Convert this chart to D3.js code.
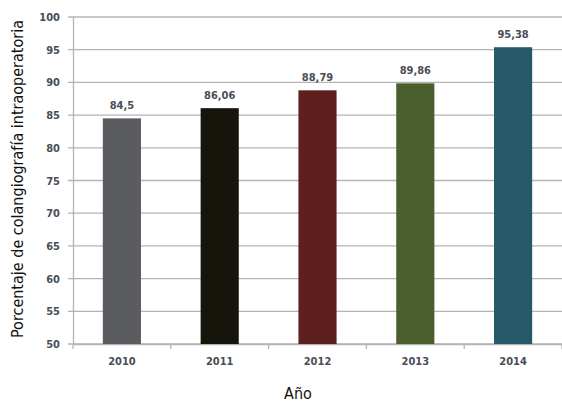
<!DOCTYPE html>
<html>
<head>
  <meta charset="UTF-8">
  <style>
    body { margin: 0; background: #fff; }
    svg { display: block; }
    .tick text, .val { font-family: "Liberation Sans Narrow", "DejaVu Sans Condensed", Arial, sans-serif; font-weight: bold; fill: #4a4d55; font-size: 11px; }
    .title { font-family: "Liberation Sans Narrow", "DejaVu Sans Condensed", Arial, sans-serif; fill: #111; font-size: 16px; }
  </style>
</head>
<body>
<svg></svg>
<script src="https://d3js.org/d3.v7.min.js"></script>
<script>
// data
let years = ["2010", "2011", "2012", "2013", "2014"];
let values = [84.5, 86.06, 88.79, 89.86, 95.38];
let labels = ["84,5", "86,06", "88,79", "89,86", "95,38"];
let colors = ["#5b5c60", "#15150b", "#5e1f1f", "#4b5e2e", "#255968"];
let yTicks = [50, 55, 60, 65, 70, 75, 80, 85, 90, 95, 100];

let width = 562, height = 402;
let mLeft = 73, mRight = 562, mTop = 17, mBottom = 344;

let svg = d3.select("svg").attr("width", width).attr("height", height);

let x = d3.scaleBand().domain(years).range([mLeft, mRight]);
let y = d3.scaleLinear().domain([50, 100]).range([mBottom, mTop]);

// gridlines
svg.append("g")
  .selectAll("line")
  .data(yTicks)
  .enter().append("line")
  .attr("x1", mLeft - 5).attr("x2", mRight)
  .attr("y1", d => y(d)).attr("y2", d => y(d))
  .attr("stroke", "#b4b4b4").attr("stroke-width", 1.3);

// y axis
let yAxis = svg.append("g")
  .attr("transform", "translate(" + mLeft + ",0)")
  .call(d3.axisLeft(y).tickValues(yTicks).tickSize(0).tickPadding(13));
yAxis.select(".domain").attr("stroke", "#b4b4b4").attr("stroke-width", 1.3);

// x axis
let xAxis = svg.append("g")
  .attr("transform", "translate(0," + mBottom + ")")
  .call(d3.axisBottom(x).tickSize(0).tickPadding(13));
xAxis.select(".domain").attr("stroke", "#b4b4b4").attr("stroke-width", 1.3);

// ticks between categories
svg.append("g")
  .selectAll("line")
  .data(years.concat(["end"]))
  .enter().append("line")
  .attr("x1", (d, i) => mLeft + i * x.bandwidth())
  .attr("x2", (d, i) => mLeft + i * x.bandwidth())
  .attr("y1", mBottom).attr("y2", mBottom + 5)
  .attr("stroke", "#b4b4b4").attr("stroke-width", 1.3);

// bars
let barW = x.bandwidth() * 0.39;
svg.append("g")
  .selectAll("rect")
  .data(values)
  .enter().append("rect")
  .attr("x", (d, i) => x(years[i]) + (x.bandwidth() - barW) / 2)
  .attr("y", d => y(d))
  .attr("width", barW)
  .attr("height", d => mBottom - y(d))
  .attr("fill", (d, i) => colors[i]);

// value labels
svg.append("g")
  .selectAll("text")
  .data(values)
  .enter().append("text")
  .attr("class", "val")
  .attr("x", (d, i) => x(years[i]) + x.bandwidth() / 2)
  .attr("y", d => y(d) - 9)
  .attr("text-anchor", "middle")
  .text((d, i) => labels[i]);

// axis titles
svg.append("text")
  .attr("class", "title")
  .attr("x", 298).attr("y", 399)
  .attr("text-anchor", "middle")
  .text("Año");

svg.append("text")
  .attr("class", "title")
  .attr("transform", "translate(23,179) rotate(-90)")
  .attr("text-anchor", "middle")
  .text("Porcentaje de colangiografía intraoperatoria");
</script>
</body>
</html>
